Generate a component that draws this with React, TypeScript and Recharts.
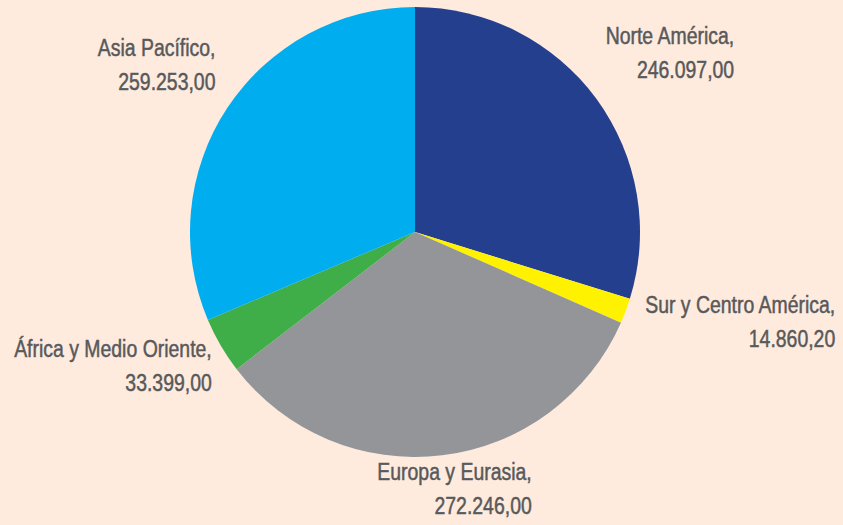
import React from 'react';
import { PieChart, Pie, Cell } from 'recharts';

const regions = ['Norte América', 'Sur y Centro América', 'Europa y Eurasia', 'África y Medio Oriente', 'Asia Pacífico'];
const values = [246097.0, 14860.2, 272246.0, 33399.0, 259253.0];
const colors = ['#253f8f', '#fff200', '#939598', '#3fae49', '#00adef'];

const data = regions.map((name, i) => ({ name, value: values[i] }));

const W = 843;
const H = 525;
const FONT = "'Liberation Sans', Arial, sans-serif";
const FONT_SIZE = 24;
const SX = 0.81; // squeeze horizontally, the original uses a condensed face
const LINE_H = 34;
const LABEL_DY = -10;

const fmt = (v: number) => {
  const [int, dec] = v.toFixed(2).split('.');
  return int.replace(/\B(?=(\d{3})+(?!\d))/g, '.') + ',' + dec;
};

let ctx: CanvasRenderingContext2D | null = null;
const measure = (s: string) => {
  if (!ctx) ctx = document.createElement('canvas').getContext('2d');
  if (!ctx) return s.length * FONT_SIZE * 0.5 * SX;
  ctx.font = `${FONT_SIZE}px ${FONT}`;
  return ctx.measureText(s).width * SX;
};

const renderLabel = (props: any) => {
  const { cx, cy, midAngle, outerRadius, name, value } = props;
  const a = (midAngle * Math.PI) / 180;
  const ux = Math.cos(a);
  const uy = -Math.sin(a);
  const l1 = name + ',';
  const l2 = fmt(value);
  const w = Math.max(measure(l1), measure(l2));
  const h = LINE_H * 2;
  const r = outerRadius + 26;
  let bx = cx + ux * r + (ux * w) / 2;
  let by = cy + uy * r + (uy * h) / 2 + LABEL_DY;
  bx = Math.min(Math.max(bx, w / 2 + 4), W - w / 2 - 4);
  by = Math.min(Math.max(by, h / 2 + 2), H - h / 2 - 2);
  const right = bx + w / 2;
  return (
    <g transform={`translate(${right},${by}) scale(${SX},1)`}>
      <text
        fill="#58595b"
        stroke="#58595b"
        strokeWidth={0.5}
        fontFamily={FONT}
        fontSize={FONT_SIZE}
        textAnchor="end"
      >
        <tspan x={0} y={-LINE_H / 2} dominantBaseline="central">{l1}</tspan>
        <tspan x={0} y={LINE_H / 2} dominantBaseline="central">{l2}</tspan>
      </text>
    </g>
  );
};

const App: React.FC = () => {
  return (
    <div style={{ width: W, height: H, background: '#feebde' }}>
      <style>{'body{margin:0}'}</style>
      <PieChart width={W} height={H} margin={{ top: 0, right: 0, bottom: 0, left: 0 }}>
        <Pie
          data={data}
          dataKey="value"
          nameKey="name"
          cx={415}
          cy={232}
          outerRadius={225}
          startAngle={90}
          endAngle={-270}
          stroke="none"
          label={renderLabel}
          labelLine={false}
          isAnimationActive={false}
        >
          {data.map((d, i) => (
            <Cell key={d.name} fill={colors[i]} />
          ))}
        </Pie>
      </PieChart>
    </div>
  );
};

export default App;
